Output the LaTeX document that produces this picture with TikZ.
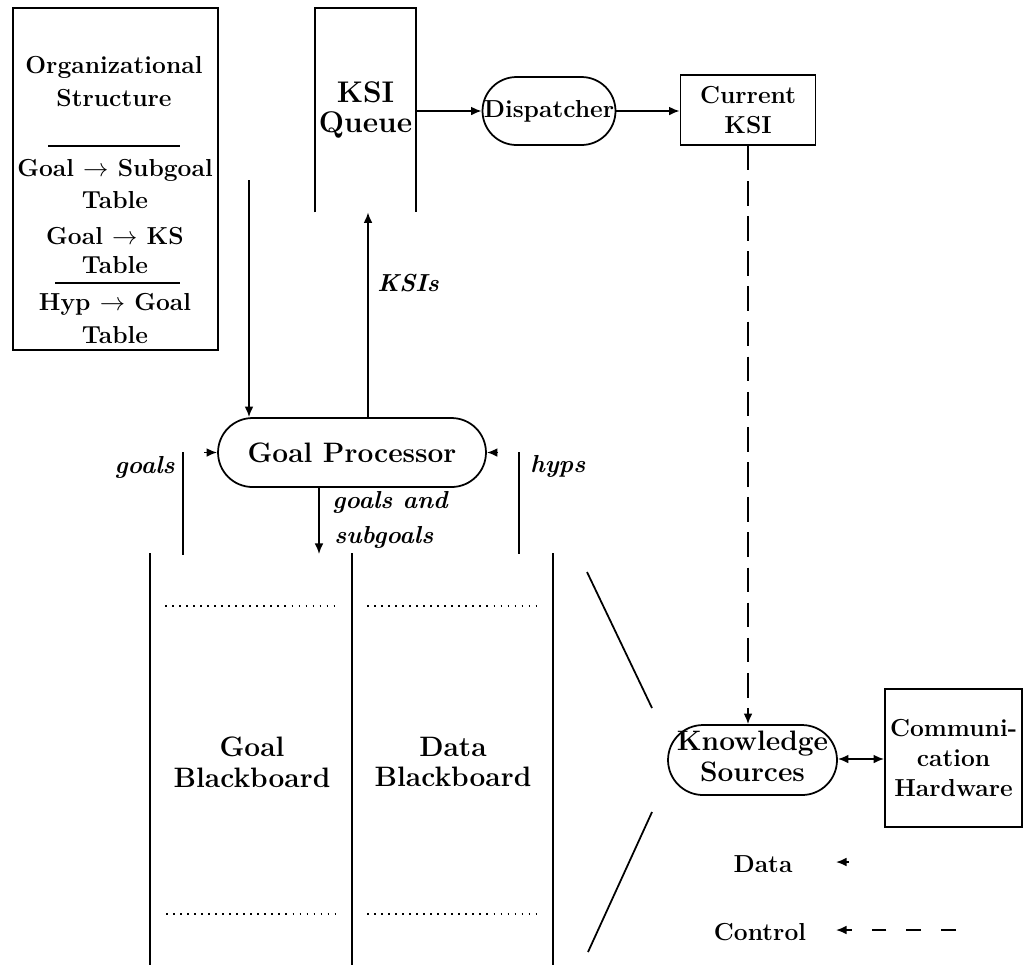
\documentclass[tikz,border=0pt]{standalone}
\usetikzlibrary{arrows.meta,shapes.misc}
\begin{document}
\begin{tikzpicture}[x=0.02cm,y=-0.02cm,
  every node/.style={font=\fontsize{14}{17}\selectfont\bfseries, align=center, inner sep=0pt},
  big/.style={font=\fontsize{16}{17.5}\selectfont\bfseries},
  lbl/.style={font=\fontsize{14}{17}\selectfont\bfseries\itshape},
  box/.style={draw, rectangle, line width=1pt},
  pill/.style={draw, rounded rectangle, line width=1pt},
  wire/.style={line width=1pt},
  flow/.style={wire, -{Latex[length=6pt,width=5pt]}},
  ctrl/.style={flow, dash pattern=on 14pt off 6pt},
  sepline/.style={line width=0.8pt},
  dotsep/.style={line width=1.1pt, dash pattern=on 0.9pt off 3.1pt},
]
\useasboundingbox (0,0) rectangle (1023,965);

% organizational structure
\node[box, minimum width=4.1cm, minimum height=6.84cm] (org) at (115.5,179) {};
\node[anchor=base] (orgA) at (114,73) {Organizational};
\node[anchor=base] (orgB) at (114,106) {Structure};
\draw[sepline] (48,146) -- (180,146);
\node[anchor=base] (tabA1) at (115,176) {Goal $\rightarrow$ Subgoal};
\node[anchor=base] (tabA2) at (115,208) {Table};
\node[anchor=base] (tabB1) at (115,244) {Goal $\rightarrow$ KS};
\node[anchor=base] (tabB2) at (115,273) {Table};
\draw[sepline] (55,283) -- (180,283);
\node[anchor=base] (tabC1) at (115,310) {Hyp $\rightarrow$ Goal};
\node[anchor=base] (tabC2) at (115,343) {Table};

% KSI queue (open at the bottom)
\node[font=\fontsize{17}{17.5}\selectfont\bfseries, minimum width=2.02cm, minimum height=4.08cm] (ksiq) at (365.5,110) {KSI\\Queue};
\draw[wire] (ksiq.south west) -- (ksiq.north west) -- (ksiq.north east) -- (ksiq.south east);

% dispatcher and current KSI
\node[pill, minimum width=2.66cm, minimum height=1.36cm] (disp) at (549,111) {\makebox[0pt]{Dispatcher}};
\node[box, minimum width=2.7cm, minimum height=1.4cm] (cur) at (748,110) {Current\\KSI};

% goal processor
\node[pill, big, minimum width=5.36cm, minimum height=1.38cm] (gp) at (352,452.5) {\makebox[0pt]{Goal Processor}};

% knowledge sources and communication hardware
\node[pill, big, minimum width=3.38cm, minimum height=1.4cm] (ks) at (752.5,760)
  {\makebox[0pt]{\begin{tabular}{@{}c@{}}Knowledge\\Sources\end{tabular}}};
\node[box, minimum width=2.74cm, minimum height=2.76cm] (ch) at (953.5,758) {Communi-\\cation\\Hardware};

% blackboards
\draw[wire] (150,553) -- (150,965);
\draw[wire] (352,553) -- (352,965);
\draw[wire] (553,553) -- (553,965);
\draw[dotsep] (165,606) -- (336,606);
\draw[dotsep] (367,606) -- (538,606);
\draw[dotsep] (166,914) -- (337,914);
\draw[dotsep] (367,914) -- (538,914);
\node[big] (gb) at (252,762) {Goal\\Blackboard};
\node[big] (db) at (453,762) {Data\\Blackboard};

% links between the blackboards and the knowledge sources
\draw[wire] (587,572) -- (652,708);
\draw[wire] (652,812) -- (588,952);

% connectors
\coordinate (orgout) at (249,180);
\draw[flow] (orgout) -- (orgout |- gp.north);
\coordinate (ksiin) at (368,0);
\draw[flow] (ksiin |- gp.north) -- (ksiin |- ksiq.south);
\node[lbl, anchor=west] (ksilbl) at (377,283) {KSIs};
\draw[flow] (ksiq.east |- disp.west) -- (disp.west);
\draw[flow] (disp.east) -- (cur.west |- disp.east);
\draw[ctrl] (cur.south) -- (cur.south |- ks.north);
\draw[wire, {Latex[length=6pt,width=5pt]}-{Latex[length=6pt,width=5pt]}] (ks.east |- 0,759) -- (ch.west |- 0,759);

\coordinate (gsa) at (319,554);
\draw[flow] (gp.south -| gsa) -- (gsa);
\node[lbl, anchor=base west] (gsl1) at (332,508) {goals and};
\node[lbl, anchor=base west] (gsl2) at (334,543) {subgoals};

\draw[wire] (183,452) -- (183,555);
\coordinate (goalsin) at (204,452.5);
\draw[flow] (goalsin) -- (gp.west);
\node[lbl, anchor=east] (goalslbl) at (175,467) {goals};

\draw[wire] (519,452) -- (519,554);
\coordinate (hypsin) at (498,452.5);
\draw[flow] (hypsin) -- (gp.east);
\node[lbl, anchor=west] (hypslbl) at (530,466) {hyps};

% legend
\node (legdata) at (763,864) {Data};
\coordinate (dtail) at (849,862);
\coordinate (dtip) at (836,862);
\draw[flow] (dtail) -- (dtip);
\node (legctrl) at (760,932) {Control};
\coordinate (ctail) at (956,930);
\coordinate (ctip) at (836,930);
\draw[flow, dash pattern=on 8.5pt off 11.3pt] (ctail) -- (ctip);
\end{tikzpicture}
\end{document}
